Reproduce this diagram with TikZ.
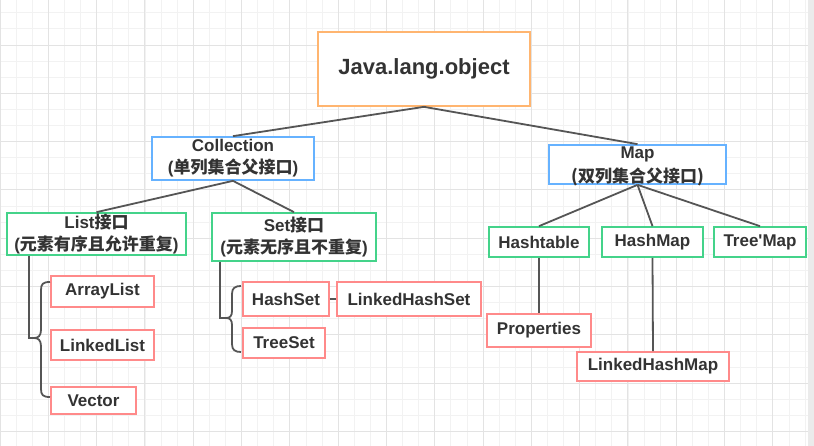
\documentclass[tikz,border=0pt]{standalone}
\usepackage{fontspec}
\usetikzlibrary{calc}
\setmainfont{Liberation Sans}[Ligatures=TeXOff]
\newfontfamily\cjk{Noto Sans CJK SC}
\newcommand\zh[1]{{\cjk #1}}
\definecolor{cOrange}{HTML}{FFB570}
\definecolor{cBlue}{HTML}{66B2FF}
\definecolor{cGreen}{HTML}{44D38A}
\definecolor{cRed}{HTML}{FF8A8A}
\definecolor{cLine}{HTML}{555555}
\definecolor{cText}{HTML}{333333}
\definecolor{gMinor}{HTML}{F2F2F2}
\definecolor{gMajor}{HTML}{E3E3E3}
\tikzset{
  box/.style={draw, fill=white, line width=1.7pt, rectangle, inner sep=0pt,
    text=cText, font=\fontsize{17}{22}\selectfont\bfseries, align=center},
  obox/.style={box, draw=cOrange},
  bbox/.style={box, draw=cBlue},
  gbox/.style={box, draw=cGreen},
  rbox/.style={box, draw=cRed},
  conn/.style={draw=cLine, line width=1.8pt},
}
\begin{document}
\begin{tikzpicture}[x=1pt,y=-1pt]
\useasboundingbox (0,0) rectangle (814,446);
% background and grid
\fill[white] (0,0) rectangle (814,446);
\begin{scope}
\clip (0,0) rectangle (808,446);
\foreach \i in {0,...,51} {\draw[gMinor, line width=0.8pt] (\i*16.1,0) -- (\i*16.1,446);}
\foreach \i in {0,...,27} {\draw[gMinor, line width=0.8pt] (0,12.8+\i*16.1) -- (808,12.8+\i*16.1);}
\foreach \i in {0,...,17} {\draw[gMajor, line width=0.9pt] (\i*48.3,0) -- (\i*48.3,446);}
\foreach \i in {-1,...,9} {\draw[gMajor, line width=0.9pt] (0,45+\i*48.3) -- (808,45+\i*48.3);}
\end{scope}
\fill[gMajor!70] (808,0) rectangle (814,446);

% nodes
\node[obox, minimum width=212pt, minimum height=74pt, font=\fontsize{22}{26}\selectfont\bfseries] (java) at (424,69) {Java.lang.object};
\node[bbox, minimum width=162pt, minimum height=43pt] (coll) at (233,158.5) {Collection\\(\zh{单列集合父接口})};
\node[bbox, minimum width=177pt, minimum height=39pt] (map) at (637.5,164.5) {};
\node[text=cText, font=\fontsize{17}{24}\selectfont\bfseries, align=center, inner sep=0pt] (maplbl) at (637.5,166) {Map\\\zh{(双列集合父接口)}};
\node[gbox, minimum width=179pt, minimum height=42pt] (list) at (96.5,234) {List\zh{接口}\\(\zh{元素有序且允许重复})};
\node[gbox, minimum width=164pt, minimum height=48pt] (set) at (294,237) {Set\zh{接口}\\(\zh{元素无序且不重复})};
\node[gbox, minimum width=100pt, minimum height=30pt] (hashtable) at (539,242) {Hashtable};
\node[gbox, minimum width=101pt, minimum height=30pt] (hashmap) at (652.5,242) {HashMap};
\node[gbox, minimum width=92pt, minimum height=30pt] (treemap) at (760,242) {Tree'Map};
\node[rbox, minimum width=103pt, minimum height=31pt] (arraylist) at (102.5,291.5) {ArrayList};
\node[rbox, minimum width=103pt, minimum height=30pt] (linkedlist) at (102.5,345) {LinkedList};
\node[rbox, minimum width=85pt, minimum height=27pt] (vector) at (93.5,400.5) {Vector};
\node[rbox, minimum width=86pt, minimum height=34pt] (hashset) at (286,299) {HashSet};
\node[rbox, minimum width=144pt, minimum height=34pt] (linkedhashset) at (409,299) {LinkedHashSet};
\node[rbox, minimum width=82pt, minimum height=30pt] (treeset) at (284,343) {TreeSet};
\node[rbox, minimum width=104pt, minimum height=33pt] (properties) at (539,330.5) {Properties};
\node[rbox, minimum width=152pt, minimum height=29pt] (linkedhashmap) at (653,366.5) {LinkedHashMap};

% connectors
\draw[conn] (java.south) -- (coll.north);
\draw[conn] (java.south) -- (map.north);
\draw[conn] (coll.south) -- (list.north);
\draw[conn] (coll.south) -- (set.north);
\draw[conn] (map.south) -- (hashtable.north);
\draw[conn] (map.south) -- (hashmap.north);
\draw[conn] (map.south) -- (treemap.north);
\draw[conn] (hashtable.south) -- (properties.north);
\draw[conn] (hashmap.south) -- (linkedhashmap.north);
\draw[conn] (hashset.east) -- (linkedhashset.west);

% list brace
\coordinate (lb) at ($(list.south west)+(23,0)$);
\coordinate (ltip) at (34,338);
\draw[conn] (lb) |- (ltip);
\draw[conn] (50,282) .. controls (43,282) and (41,284) .. (41,290) -- (41,330)
  .. controls (41,336) and (38,338) .. (ltip)
  .. controls (38,338) and (41,340) .. (41,346) -- (41,389)
  .. controls (41,395) and (43,397) .. (50,397);

% set brace
\coordinate (sb) at ($(set.south west)+(9,0)$);
\coordinate (stip) at (226,318);
\draw[conn] (sb) |- (stip);
\draw[conn] (241,286) .. controls (235,286) and (232,288) .. (232,294) -- (232,311)
  .. controls (232,316) and (230,318) .. (stip)
  .. controls (230,318) and (232,320) .. (232,325) -- (232,344)
  .. controls (232,350) and (235,352) .. (241,352);
\end{tikzpicture}
\end{document}
